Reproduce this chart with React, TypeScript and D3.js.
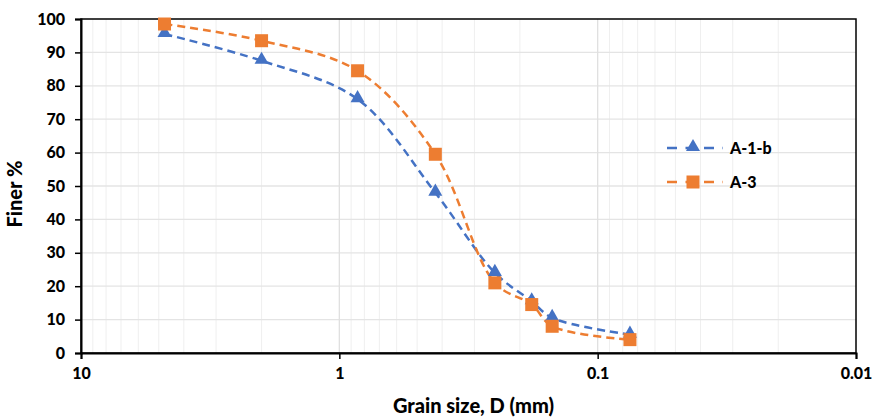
import React, { useEffect, useRef } from 'react'
import * as d3 from 'd3'

// sieve sizes (mm) and percent finer
const sieveSizes = [4.75, 2.0, 0.85, 0.425, 0.25, 0.18, 0.15, 0.075]
const finerA1b = [95.5, 87.5, 76, 48, 24, 15.5, 10.5, 5.5]
const finerA3 = [98.5, 93.5, 84.5, 59.5, 21, 14.5, 8, 4]
const xTicks = [10, 1, 0.1, 0.01]
const yTicks = [0, 10, 20, 30, 40, 50, 60, 70, 80, 90, 100]
const seriesNames = ['A-1-b', 'A-3']

const BLUE = '#4472C4'
const ORANGE = '#ED7D31'
const FONT = 'Lato, "Open Sans", sans-serif'

function App () {
  const ref = useRef<SVGSVGElement>(null)

  useEffect(() => {
    const width = 877
    const height = 418
    const margin = { top: 19, right: 21, bottom: 65, left: 81 }
    const w = width - margin.left - margin.right
    const h = height - margin.top - margin.bottom

    const root = d3.select(ref.current)
    root.selectAll('*').remove()

    const svg = root.append('g')
      .attr('transform', 'translate(' + margin.left + ',' + margin.top + ')')

    const x = d3.scaleLog().domain([10, 0.01]).range([0, w])
    const y = d3.scaleLinear().domain([0, 100]).range([h, 0])

    // minor log gridlines
    const minor: number[] = []
    ;[1, 0.1, 0.01].forEach(d => {
      for (let k = 2; k <= 9; k++) minor.push(d * k)
    })
    svg.append('g')
      .selectAll('line')
      .data(minor)
      .enter()
      .append('line')
      .attr('x1', d => x(d))
      .attr('x2', d => x(d))
      .attr('y1', 0)
      .attr('y2', h)
      .attr('stroke', '#efefef')
      .attr('stroke-width', 1)

    svg.append('g')
      .selectAll('line')
      .data(yTicks.slice(1, -1))
      .enter()
      .append('line')
      .attr('x1', 0)
      .attr('x2', w)
      .attr('y1', d => y(d))
      .attr('y2', d => y(d))
      .attr('stroke', '#e4e4e4')
      .attr('stroke-width', 1.3)

    svg.append('g')
      .selectAll('line')
      .data(xTicks.slice(1, -1))
      .enter()
      .append('line')
      .attr('x1', d => x(d))
      .attr('x2', d => x(d))
      .attr('y1', 0)
      .attr('y2', h)
      .attr('stroke', '#e0e0e0')
      .attr('stroke-width', 1.3)

    // border
    svg.append('rect')
      .attr('x', 0)
      .attr('y', 0)
      .attr('width', w)
      .attr('height', h)
      .attr('fill', 'none')
      .attr('stroke', '#000')
      .attr('stroke-width', 1.5)

    // axes
    const xAxis = svg.append('g')
      .attr('transform', 'translate(0,' + h + ')')
      .call(d3.axisBottom(x).tickValues(xTicks).tickFormat(d => String(d)).tickSize(6).tickPadding(9))
    const yAxis = svg.append('g')
      .call(d3.axisLeft(y).tickValues(yTicks).tickSize(6).tickPadding(10))
    ;[xAxis, yAxis].forEach(a => {
      a.select('.domain').attr('stroke', '#000').attr('stroke-width', 2)
      a.selectAll('.tick line').attr('stroke', '#000').attr('stroke-width', 1.5)
      a.selectAll('.tick text')
        .attr('fill', '#000')
        .style('font-family', FONT)
        .style('font-size', '16px')
        .style('font-weight', '900')
    })

    const line = d3.line<[number, number]>()
      .x(d => x(d[0]))
      .y(d => y(d[1]))
      .curve(d3.curveCatmullRom.alpha(0.5))

    const series = [
      { name: seriesNames[0], values: finerA1b, color: BLUE, shape: 'tri' },
      { name: seriesNames[1], values: finerA3, color: ORANGE, shape: 'sq' }
    ]

    const marker = (g: any, shape: string, color: string, cx: number, cy: number) => {
      if (shape === 'tri') {
        g.append('path')
          .attr('d', d3.symbol().type(d3.symbolTriangle).size(85)())
          .attr('transform', 'translate(' + cx + ',' + (cy - 1) + ')')
          .attr('fill', color)
      } else {
        g.append('rect')
          .attr('x', cx - 6.5)
          .attr('y', cy - 6.5)
          .attr('width', 13)
          .attr('height', 13)
          .attr('fill', color)
      }
    }

    series.forEach(s => {
      const pts: [number, number][] = sieveSizes.map((d, i) => [d, s.values[i]])
      svg.append('path')
        .datum(pts)
        .attr('fill', 'none')
        .attr('stroke', s.color)
        .attr('stroke-width', 2.5)
        .attr('stroke-dasharray', '8,5')
        .attr('d', line)
    })
    series.forEach(s => {
      const g = svg.append('g')
      sieveSizes.forEach((d, i) => marker(g, s.shape, s.color, x(d), y(s.values[i])))
    })

    // legend
    const legend = svg.append('g')
    series.forEach((s, i) => {
      const ly = 129 + i * 34
      legend.append('line')
        .attr('x1', 586)
        .attr('x2', 642)
        .attr('y1', ly)
        .attr('y2', ly)
        .attr('stroke', s.color)
        .attr('stroke-width', 2.5)
        .attr('stroke-dasharray', '10,8.5')
      marker(legend, s.shape, s.color, 612, ly)
      legend.append('text')
        .attr('x', 649)
        .attr('y', ly + 6)
        .attr('fill', '#000')
        .style('font-family', FONT)
        .style('font-size', '16px')
        .style('font-weight', '900')
        .text(s.name)
    })

    // axis labels
    svg.append('text')
      .attr('text-anchor', 'middle')
      .attr('x', w / 2 + 5)
      .attr('y', h + 60)
      .style('font-family', FONT)
      .style('font-size', '20px')
      .style('font-weight', '900')
      .text('Grain size, D (mm)')

    svg.append('g')
      .attr('transform', 'translate(' + (-59) + ',' + (h / 2 + 8) + ')')
      .append('text')
      .attr('text-anchor', 'middle')
      .attr('transform', 'rotate(-90)')
      .style('font-family', FONT)
      .style('font-size', '20px')
      .style('font-weight', '900')
      .text('Finer %')
  }, [])

  return (
    <svg ref={ref} width={877} height={418} style={{ position: 'absolute', left: 0, top: 0, background: '#fff' }} />
  )
}

export default App
